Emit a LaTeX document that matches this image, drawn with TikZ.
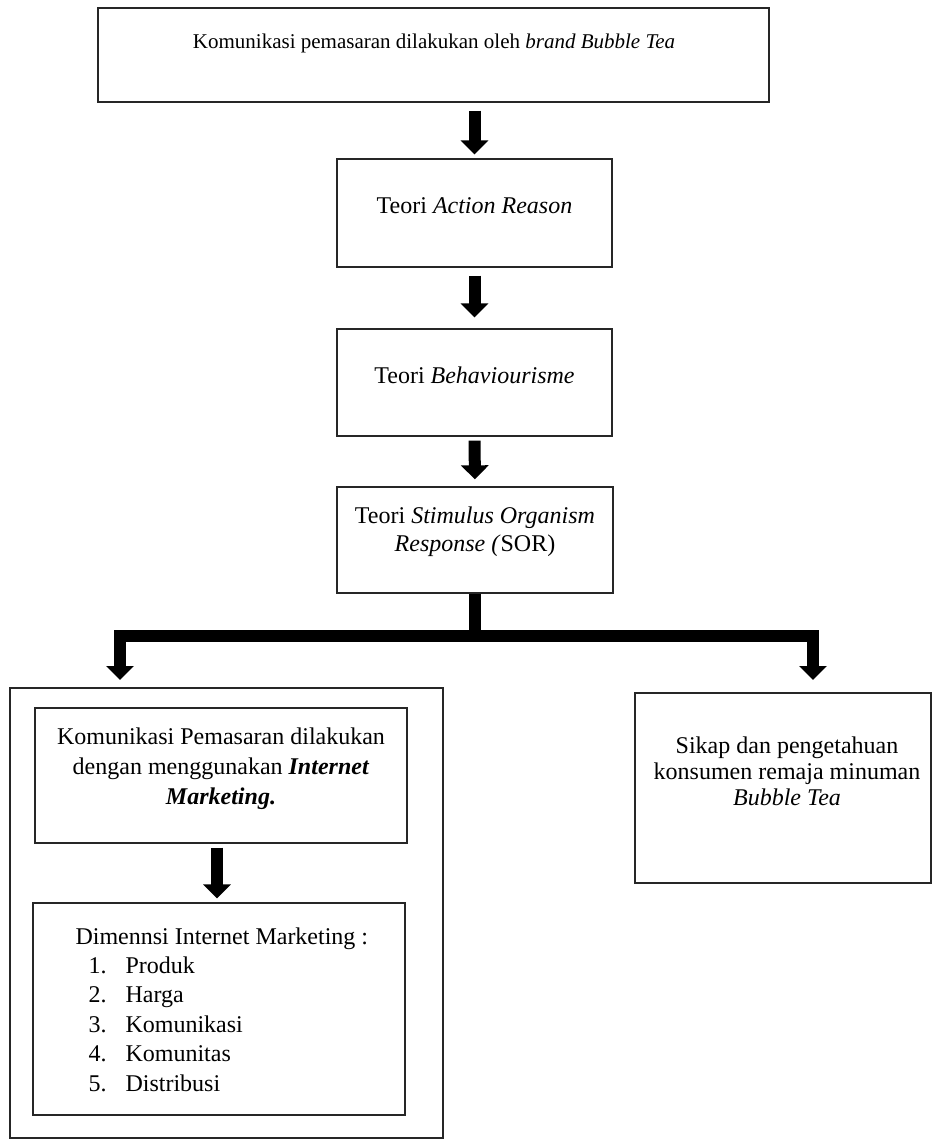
\documentclass[tikz,border=0pt]{standalone}
\usepackage{fontspec}
\setmainfont{Liberation Serif}
\usepackage{tikz}
\usetikzlibrary{arrows.meta,positioning,calc}

\begin{document}
\begin{tikzpicture}[
  x=1pt, y=-1pt,
  box/.style={rectangle, draw=black!85, line width=1.3pt, inner sep=0pt},
  txt/.style={align=center, font=\fontsize{24}{28}\selectfont},
  fatarrow/.style={-{Triangle[width=27pt, length=14pt]}, line width=12pt},
  fatline/.style={line width=12pt},
]
  \useasboundingbox (0,0) rectangle (932,1139);

  % Main chain
  \node[box, minimum width=671pt, minimum height=94pt] at (433.5,55) (komunikasi) {};
  \node[txt, font=\fontsize{21}{26}\selectfont] at (434,43) (komunikasitxt) {Komunikasi pemasaran dilakukan oleh \textit{brand Bubble Tea}};

  \node[box, minimum width=275pt, minimum height=108pt] at (474.5,213) (action) {};
  \node[txt] at (474.5,206) (actiontxt) {Teori \textit{Action Reason}};

  \node[box, minimum width=275pt, minimum height=107pt] at (474.5,382.5) (behav) {};
  \node[txt] at (474.5,375) (behavtxt) {Teori \textit{Behaviourisme}};

  \node[box, minimum width=276pt, minimum height=106pt] at (475,540) (sor) {};
  \node[txt] at (475,532) (sortxt) {Teori \textit{Stimulus Organism}\\\textit{Response (}SOR)};

  % Left branch
  \node[box, minimum width=433pt, minimum height=450pt] at (226.5,913) (outer) {};
  \node[box, minimum width=372pt, minimum height=135pt] at (221,775.5) (internet) {};
  \node[txt, font=\fontsize{24}{30}\selectfont] at (221,769) (internettxt)
    {Komunikasi Pemasaran dilakukan\\dengan menggunakan \textbf{\textit{Internet}}\\\textbf{\textit{Marketing.}}};
  \node[box, minimum width=372pt, minimum height=212pt] at (219,1009) (dimensi) {};
  \node[txt, align=left, anchor=north west, font=\fontsize{24}{29.4}\selectfont] at (72,924) (dimensitxt)
    {Dimennsi Internet Marketing :\\
     \hspace*{13pt}\makebox[37pt][l]{1.}Produk\\
     \hspace*{13pt}\makebox[37pt][l]{2.}Harga\\
     \hspace*{13pt}\makebox[37pt][l]{3.}Komunikasi\\
     \hspace*{13pt}\makebox[37pt][l]{4.}Komunitas\\
     \hspace*{13pt}\makebox[37pt][l]{5.}Distribusi};

  % Right branch
  \node[box, minimum width=296pt, minimum height=190pt] at (783,788) (sikap) {};
  \node[txt, font=\fontsize{24}{26}\selectfont] at (787,771) (sikaptxt)
    {Sikap dan pengetahuan\\konsumen remaja minuman\\\textit{Bubble Tea}};

  % Arrows
  \draw[fatarrow, shorten <=8pt, shorten >=4pt] (komunikasi.south -| action.north) -- (action.north);
  \draw[fatarrow, shorten <=8pt, shorten >=11pt] (action.south) -- (behav.north);
  \draw[fatarrow, shorten <=4pt, shorten >=7pt] (behav.south) -- (sor.north);
  \draw[fatarrow, shorten <=4pt, shorten >=4pt] (internet.south -| 217,0) -- (dimensi.north -| 217,0);

  % Branching
  \coordinate (split) at (475,636);
  \coordinate (lefttip) at (120,680);
  \coordinate (righttip) at (813,680);
  \draw[fatline] (sor.south) -- ([yshift=6pt]split);
  \draw[fatarrow, line join=miter] (split) -| (lefttip);
  \draw[fatarrow, line join=miter] (split) -| (righttip);
\end{tikzpicture}
\end{document}
